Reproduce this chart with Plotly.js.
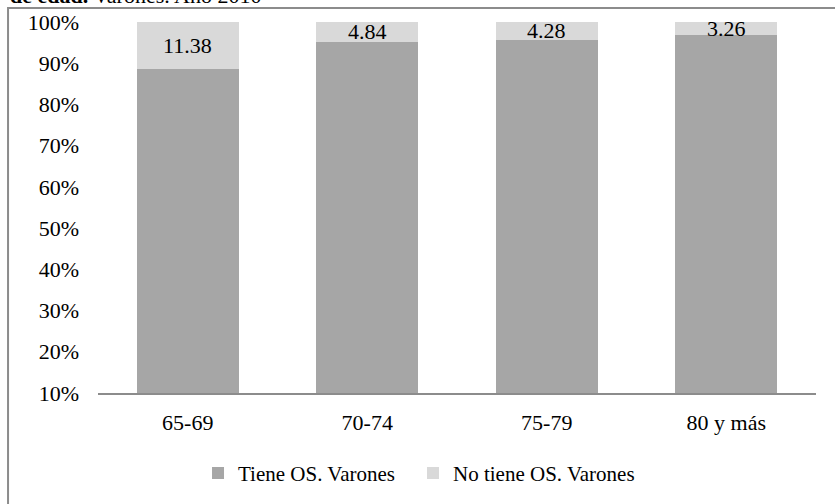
<!DOCTYPE html>
<html>
<head>
<meta charset="utf-8">
<script src="https://cdn.plot.ly/plotly-3.0.1.min.js"></script>
<style>
  html, body { margin: 0; padding: 0; background: #ffffff; }
  #chart { width: 835px; height: 504px; }
</style>
</head>
<body>
<div id="chart"></div>
<script>
// Age groups and share of men with / without health insurance (obra social), 2010
const groups = ['65-69', '70-74', '75-79', '80 y más'];
const tieneOS = [88.62, 95.16, 95.72, 96.74];
const noTieneOS = [11.38, 4.84, 4.28, 3.26];
const yTicks = [10, 20, 30, 40, 50, 60, 70, 80, 90, 100];

const serif = 'Liberation Serif';
const darkGray = '#a6a6a6';
const lightGray = '#d9d9d9';

const traces = [
  {
    type: 'bar', name: 'Tiene OS. Varones', x: groups, y: tieneOS,
    marker: { color: darkGray, line: { width: 0 } },
    hoverinfo: 'skip', legend: 'legend'
  },
  {
    type: 'bar', name: 'No tiene OS. Varones', x: groups, y: noTieneOS,
    marker: { color: lightGray, line: { width: 0 } },
    hoverinfo: 'skip', legend: 'legend2'
  }
];

// value labels centred on the upper segment of each bar
const labels = groups.map((g, i) => ({
  x: g, y: tieneOS[i] + noTieneOS[i] / 2,
  xref: 'x', yref: 'y',
  text: noTieneOS[i].toFixed(2),
  showarrow: false, xanchor: 'center', yanchor: 'middle',
  font: { family: serif, size: 22, color: '#000000' }
}));

labels.push({
  xref: 'paper', yref: 'paper', x: -0.1253, y: 1.032,
  xanchor: 'left', yanchor: 'bottom',
  text: '<b>de edad.</b> Varones. Año 2010',
  showarrow: false,
  font: { family: serif, size: 22, color: '#000000' }
});

const legendFont = { family: serif, size: 21, color: '#000000' };

const layout = {
  width: 835, height: 504,
  margin: { l: 98, r: 19, t: 22, b: 110 },
  paper_bgcolor: '#ffffff', plot_bgcolor: '#ffffff',
  barmode: 'stack',
  bargap: 0.43,
  font: { family: serif, size: 21, color: '#000000' },
  xaxis: {
    type: 'category',
    showgrid: false, zeroline: false,
    showline: true, linecolor: '#8c8c8c', linewidth: 2,
    ticks: '', ticklabelstandoff: 9,
    tickfont: { family: serif, size: 22, color: '#000000' }
  },
  yaxis: {
    range: [10, 100],
    tickvals: yTicks, ticktext: yTicks.map(v => v + '%'),
    showgrid: false, zeroline: false, showline: false,
    ticks: '', ticklabelstandoff: 18,
    tickfont: { family: serif, size: 22, color: '#000000' }
  },
  showlegend: true,
  legend: {
    orientation: 'h', x: 0.1393, y: -0.213, xanchor: 'left', yanchor: 'middle',
    font: legendFont, bgcolor: 'rgba(0,0,0,0)', borderwidth: 0, itemclick: false
  },
  legend2: {
    orientation: 'h', x: 0.4387, y: -0.213, xanchor: 'left', yanchor: 'middle',
    font: legendFont, bgcolor: 'rgba(0,0,0,0)', borderwidth: 0, itemclick: false
  },
  annotations: labels,
  shapes: [{
    type: 'rect', xref: 'paper', yref: 'paper',
    x0: -0.1253, x1: 1.2, y0: -0.6, y1: 1.0376,
    line: { color: '#8c8c8c', width: 2 }, fillcolor: 'rgba(0,0,0,0)',
    layer: 'below'
  }]
};

Plotly.newPlot('chart', traces, layout, { displayModeBar: false, staticPlot: true });
</script>
</body>
</html>
